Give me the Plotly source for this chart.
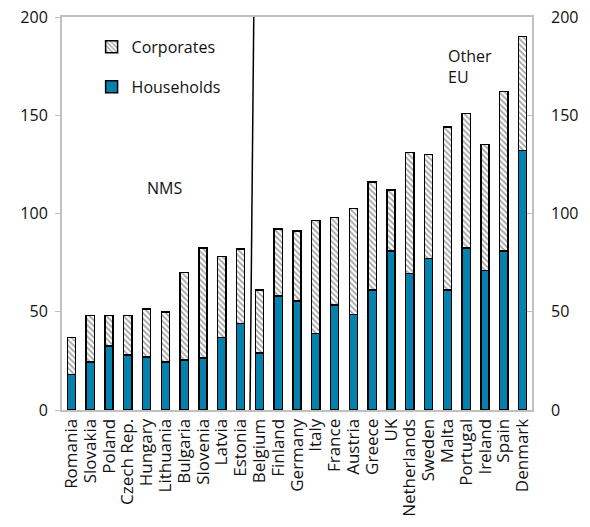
import plotly.graph_objects as go

countries = ["Romania", "Slovakia", "Poland", "Czech Rep.", "Hungary", "Lithuania",
             "Bulgaria", "Slovenia", "Latvia", "Estonia", "Belgium", "Finland",
             "Germany", "Italy", "France", "Austria", "Greece", "UK", "Netherlands",
             "Sweden", "Malta", "Portugal", "Ireland", "Spain", "Denmark"]
households = [18, 24.5, 32.5, 28, 27, 24.5, 25.5, 26.5, 37, 44, 29, 58,
              55.5, 39, 53.5, 48.5, 61, 81, 69.5, 77, 61, 82.5, 71, 81, 132]
totals = [37, 48, 48, 48, 51.5, 50, 70, 82.5, 78, 82, 61, 92,
          91, 96.5, 98, 102.5, 116, 112, 131, 130, 144, 151, 135, 162, 190]
corporates = [t - h for t, h in zip(totals, households)]
y_ticks = [0, 50, 100, 150, 200]

FONT = "Open Sans"
GRID = "#c0c0c0"

fig = go.Figure()
fig.add_trace(go.Bar(
    x=countries, y=households, name="Households",
    marker=dict(color="#0482ad", line=dict(color="black", width=1.5)),
    legendgroup="h", legendrank=2,
))
fig.add_trace(go.Bar(
    x=countries, y=corporates, name="Corporates",
    marker=dict(color="white", line=dict(color="black", width=1.5),
                pattern=dict(shape="\\", fgcolor="#444444", bgcolor="white",
                             size=4, solidity=0.45)),
    legendgroup="c", legendrank=1,
))
# invisible trace so the right-hand axis gets drawn
fig.add_trace(go.Scatter(x=[countries[0]], y=[0], yaxis="y2", mode="markers",
                         marker=dict(opacity=0), showlegend=False, hoverinfo="skip"))

# divider between NMS and the other EU countries
fig.add_shape(type="line", xref="x", yref="y", x0=9.5, y0=0, x1=9.7, y1=200,
              line=dict(color="black", width=1.5))

fig.add_annotation(x=4.97, y=113, xref="x", yref="y", text="NMS", showarrow=False,
                   font=dict(family=FONT, size=16, color="#111"), xanchor="center")
fig.add_annotation(x=19.9, y=187, xref="x", yref="y", text="Other<br>EU",
                   showarrow=False, align="left", xanchor="left", yanchor="top",
                   font=dict(family=FONT, size=16, color="#111"))

axis_common = dict(range=[0, 200], tickvals=y_ticks, showgrid=False, zeroline=False,
                   tickfont=dict(family=FONT, size=16, color="#111"),
                   ticklen=5, tickcolor=GRID, automargin=False)

fig.update_layout(
    width=590, height=527,
    margin=dict(l=62, r=58, t=17, b=117),
    paper_bgcolor="white", plot_bgcolor="white",
    barmode="stack", bargap=0.56,
    xaxis=dict(tickangle=-90, tickfont=dict(family=FONT, size=17, color="#111"),
               tickmode="array", tickvals=countries, ticktext=countries,
               range=[-0.5, 24.5], autorange=False, automargin=False,
               showline=True, linecolor=GRID, linewidth=2, mirror=True,
               ticks="", fixedrange=True),
    yaxis=dict(**axis_common, ticks="outside", ticklabelstandoff=4,
               showline=True, linecolor=GRID, linewidth=2, mirror=True),
    yaxis2=dict(**axis_common, ticks="inside", ticklabelstandoff=18,
                overlaying="y", side="right", showline=False),
    legend=dict(x=0.063, y=0.967, xanchor="left", yanchor="top",
                traceorder="grouped", tracegroupgap=16,
                font=dict(family=FONT, size=16, color="#111"),
                bgcolor="rgba(0,0,0,0)", itemwidth=30),
    showlegend=True,
)

fig.write_html("out.html")
